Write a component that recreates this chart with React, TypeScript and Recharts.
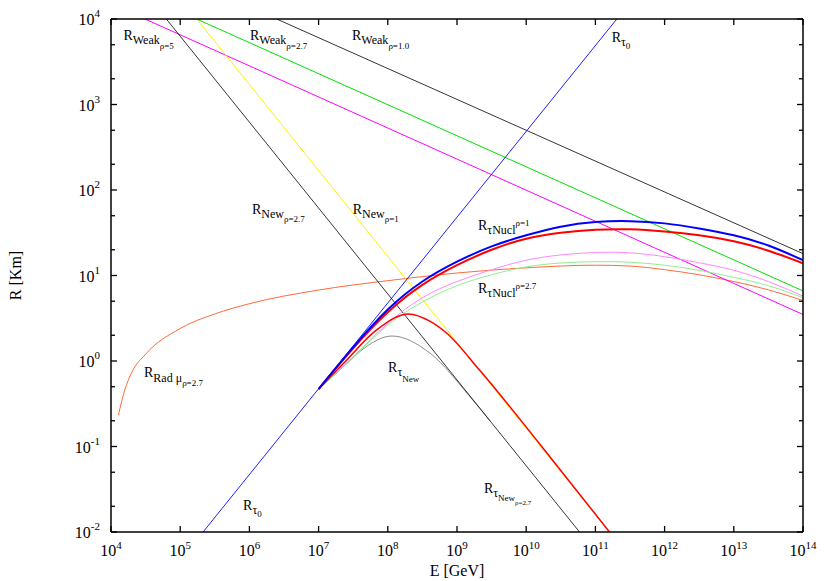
import { LineChart, Line, XAxis, YAxis, ReferenceDot } from "recharts";

const FONT = '"Liberation Serif", "Times New Roman", Times, serif';

// axis ticks
const eTicks = [1e4, 1e5, 1e6, 1e7, 1e8, 1e9, 1e10, 1e11, 1e12, 1e13, 1e14];
const rMajor = [1e-2, 1e-1, 1, 1e1, 1e2, 1e3, 1e4];
const rMinor = [2e-2, 5e-2, 2e-1, 5e-1, 2, 5, 20, 50, 200, 500, 2e3, 5e3];
const rTicks = [...rMajor, ...rMinor].sort((a, b) => a - b);

type Pt = { e: number; r: number };

// straight lines (log-log)
const tau0: Pt[] = [
  { e: 2.14e5, r: 0.01 },
  { e: 2.04e11, r: 1e4 }
];
const weakRho1: Pt[] = [
  { e: 2.48e6, r: 1e4 },
  { e: 1e14, r: 18 }
];
const weakRho27: Pt[] = [
  { e: 1.73e5, r: 1e4 },
  { e: 1e14, r: 6.6 }
];
const weakRho5: Pt[] = [
  { e: 3.1e4, r: 1e4 },
  { e: 1e14, r: 3.5 }
];
const newRho27: Pt[] = [
  { e: 6.3e4, r: 1e4 },
  { e: 5.9e10, r: 0.01 }
];
const newRho1: Pt[] = [
  { e: 1.73e5, r: 1e4 },
  { e: 1.6e11, r: 0.01 }
];

// curves
const radMu: Pt[] = [
  { e: 1.28e4, r: 0.234 },
  { e: 1.58e4, r: 0.457 },
  { e: 2e4, r: 0.74 },
  { e: 3.16e4, r: 1.2 },
  { e: 1e5, r: 2.4 },
  { e: 3.16e5, r: 3.55 },
  { e: 1e6, r: 4.68 },
  { e: 1e7, r: 6.76 },
  { e: 1e8, r: 8.7 },
  { e: 1e9, r: 10.7 },
  { e: 1e10, r: 12.3 },
  { e: 1e11, r: 13.2 },
  { e: 3.16e11, r: 12.9 },
  { e: 1e12, r: 11.7 },
  { e: 3.16e12, r: 10.2 },
  { e: 1e13, r: 8.5 },
  { e: 3.16e13, r: 6.8 },
  { e: 1e14, r: 5.1 }
];
const nuclBlue: Pt[] = [
  { e: 1e7, r: 0.47 },
  { e: 3.16e7, r: 1.45 },
  { e: 1e8, r: 4.0 },
  { e: 3.16e8, r: 8.5 },
  { e: 1e9, r: 14.5 },
  { e: 3.16e9, r: 21.9 },
  { e: 1e10, r: 29.5 },
  { e: 3.16e10, r: 37.2 },
  { e: 1e11, r: 42.2 },
  { e: 3.16e11, r: 43.2 },
  { e: 1e12, r: 40.7 },
  { e: 3.16e12, r: 35.5 },
  { e: 1e13, r: 29.5 },
  { e: 3.16e13, r: 22.4 },
  { e: 1e14, r: 15.1 }
];
const nuclRed: Pt[] = [
  { e: 1e7, r: 0.47 },
  { e: 3.16e7, r: 1.41 },
  { e: 1e8, r: 3.72 },
  { e: 3.16e8, r: 7.76 },
  { e: 1e9, r: 13.2 },
  { e: 3.16e9, r: 20.0 },
  { e: 1e10, r: 26.9 },
  { e: 3.16e10, r: 31.6 },
  { e: 1e11, r: 34.3 },
  { e: 3.16e11, r: 34.7 },
  { e: 1e12, r: 32.7 },
  { e: 3.16e12, r: 29.5 },
  { e: 1e13, r: 25.1 },
  { e: 3.16e13, r: 19.5 },
  { e: 1e14, r: 13.9 }
];
const nuclPink: Pt[] = [
  { e: 1e7, r: 0.47 },
  { e: 3.16e7, r: 1.12 },
  { e: 1e8, r: 2.75 },
  { e: 3.16e8, r: 5.5 },
  { e: 1e9, r: 8.5 },
  { e: 3.16e9, r: 11.7 },
  { e: 1e10, r: 15.1 },
  { e: 3.16e10, r: 17.4 },
  { e: 1e11, r: 18.6 },
  { e: 3.16e11, r: 18.4 },
  { e: 1e12, r: 16.6 },
  { e: 3.16e12, r: 14.1 },
  { e: 1e13, r: 11.5 },
  { e: 3.16e13, r: 8.5 },
  { e: 1e14, r: 5.75 }
];
const nuclGreen: Pt[] = [
  { e: 1e7, r: 0.47 },
  { e: 3.16e7, r: 1.1 },
  { e: 1e8, r: 2.63 },
  { e: 3.16e8, r: 4.9 },
  { e: 1e9, r: 7.6 },
  { e: 3.16e9, r: 10.2 },
  { e: 1e10, r: 12.6 },
  { e: 3.16e10, r: 14.0 },
  { e: 1e11, r: 14.5 },
  { e: 3.16e11, r: 14.3 },
  { e: 1e12, r: 13.2 },
  { e: 3.16e12, r: 11.5 },
  { e: 1e13, r: 9.5 },
  { e: 3.16e13, r: 7.6 },
  { e: 1e14, r: 5.5 }
];
const tauNewRho1: Pt[] = [
  { e: 1e7, r: 0.47 },
  { e: 2.3e7, r: 0.94 },
  { e: 6.9e7, r: 2.31 },
  { e: 2e8, r: 3.55 },
  { e: 4.1e8, r: 2.9 },
  { e: 7.1e8, r: 2.11 },
  { e: 2.1e9, r: 0.79 },
  { e: 1.6e10, r: 0.105 },
  { e: 1.6e11, r: 0.01 }
];
const tauNewRho27: Pt[] = [
  { e: 1e7, r: 0.47 },
  { e: 2.3e7, r: 0.86 },
  { e: 4e7, r: 1.3 },
  { e: 1.15e8, r: 1.96 },
  { e: 4.1e8, r: 1.23 },
  { e: 1.55e9, r: 0.38 },
  { e: 3e9, r: 0.2 }
];

// annotations: [text, baseline offset, font size]
type Part = [string, number, number];
const labels: { e: number; r: number; parts: Part[] }[] = [
  { e: 1.51e4, r: 5740, parts: [["R", 0, 14], ["Weak", 4, 12], ["ρ=5", 9, 9]] },
  { e: 1.02e6, r: 5740, parts: [["R", 0, 14], ["Weak", 4, 12], ["ρ=2.7", 9, 9]] },
  { e: 3.04e7, r: 5740, parts: [["R", 0, 14], ["Weak", 4, 12], ["ρ=1.0", 9, 9]] },
  { e: 1.72e11, r: 5380, parts: [["R", 0, 14], ["τ", 4, 12], ["0", 7, 9]] },
  { e: 1.09e6, r: 53, parts: [["R", 0, 14], ["New", 4, 12], ["ρ=2.7", 8, 9]] },
  { e: 3.11e7, r: 53, parts: [["R", 0, 14], ["New", 4, 12], ["ρ=1", 8, 9]] },
  { e: 2.01e9, r: 34, parts: [["R", 0, 14], ["τNucl", 4, 12], ["ρ=1", -4.5, 9]] },
  { e: 2.01e9, r: 6.2, parts: [["R", 0, 14], ["τNucl", 4, 12], ["ρ=2.7", -4.5, 9]] },
  { e: 3.0e4, r: 0.658, parts: [["R", 0, 14], ["Rad μ", 5, 12], ["ρ=2.7", 9.5, 9]] },
  { e: 1.01e8, r: 0.751, parts: [["R", 0, 14], ["τ", 4, 12], ["New", 10, 9]] },
  { e: 8.1e5, r: 0.0182, parts: [["R", 0, 14], ["τ", 4, 12], ["0", 7, 9]] },
  { e: 2.45e9, r: 0.0286, parts: [["R", 0, 14], ["τ", 4, 12], ["New", 8, 9], ["ρ=2.7", 12, 7]] }
];

const exp10 = (v: number) => Math.round(Math.log10(v));
const isMajor = (v: number) => Math.abs(Math.log10(v) - exp10(v)) < 1e-6;

function BottomTick(props: any) {
  const { x, y, payload } = props;
  return (
    <g>
      <line x1={x} y1={y} x2={x} y2={y - 6} stroke="#000" strokeWidth={1.3} />
      <text x={x} y={y + 24} textAnchor="middle" fontFamily={FONT} fontSize={16} fill="#000">
        10<tspan dy={-7} fontSize={11}>{exp10(payload.value)}</tspan>
      </text>
    </g>
  );
}

function TopTick(props: any) {
  const { x, y } = props;
  return <line x1={x} y1={y} x2={x} y2={y + 6} stroke="#000" strokeWidth={1.3} />;
}

function LeftTick(props: any) {
  const { x, y, payload } = props;
  const major = isMajor(payload.value);
  return (
    <g>
      <line x1={x} y1={y} x2={x + (major ? 6 : 4)} y2={y} stroke="#000" strokeWidth={1.3} />
      {major ? (
        <text x={x - 11} y={y + 6} textAnchor="end" fontFamily={FONT} fontSize={16} fill="#000">
          10<tspan dy={-8} fontSize={11}>{exp10(payload.value)}</tspan>
        </text>
      ) : null}
    </g>
  );
}

function RightTick(props: any) {
  const { x, y, payload } = props;
  const major = isMajor(payload.value);
  return <line x1={x} y1={y} x2={x - (major ? 6 : 4)} y2={y} stroke="#000" strokeWidth={1.3} />;
}

function MathLabel(props: any, parts: Part[]) {
  const vb = props.viewBox || {};
  let prev = 0;
  return (
    <text x={vb.x} y={vb.y} fontFamily={FONT} fill="#000">
      {parts.map(([t, off, size], i) => {
        const dy = off - prev;
        prev = off;
        return (
          <tspan key={i} dy={dy} fontSize={size}>
            {t}
          </tspan>
        );
      })}
    </text>
  );
}

type Curve = "linear" | "monotone" | "natural";
const series: { data: Pt[]; color: string; width: number; curve: Curve }[] = [
  { data: radMu, color: "#ff6a3a", width: 1, curve: "monotone" },
  { data: weakRho5, color: "#ff00ff", width: 1, curve: "linear" },
  { data: weakRho27, color: "#00e000", width: 1, curve: "linear" },
  { data: weakRho1, color: "#000000", width: 0.8, curve: "linear" },
  { data: newRho1, color: "#ffee00", width: 1, curve: "linear" },
  { data: tau0, color: "#1f1fff", width: 1, curve: "linear" },
  { data: tauNewRho27, color: "#8c8c8c", width: 1, curve: "monotone" },
  { data: newRho27, color: "#000000", width: 0.8, curve: "linear" },
  { data: nuclPink, color: "#ff88ff", width: 1, curve: "natural" },
  { data: nuclGreen, color: "#90ee90", width: 1, curve: "natural" },
  { data: tauNewRho1, color: "#ff0000", width: 1.5, curve: "monotone" },
  { data: nuclRed, color: "#ff0000", width: 2, curve: "natural" },
  { data: nuclBlue, color: "#0000ff", width: 2, curve: "natural" }
];

export default function App() {
  return (
    <div style={{ position: "absolute", left: 0, top: 0, width: 830, height: 581, background: "#fff" }}>
      <LineChart width={830} height={581} margin={{ top: 0, right: 0, bottom: 0, left: 0 }}>
        <XAxis
          xAxisId="b"
          orientation="bottom"
          dataKey="e"
          type="number"
          scale="log"
          domain={[1e4, 1e14]}
          allowDataOverflow
          ticks={eTicks}
          interval={0}
          height={49}
          tickSize={0}
          tickMargin={0}
          tickLine={false}
          tick={BottomTick}
          axisLine={{ stroke: "#000", strokeWidth: 1.5 }}
          label={{
            content: (p: any) => {
              const vb = p.viewBox || {};
              return (
                <text x={vb.x + vb.width / 2} y={vb.y + 44} textAnchor="middle" fontFamily={FONT} fontSize={16} fill="#000">
                  E [GeV]
                </text>
              );
            }
          }}
        />
        <XAxis
          xAxisId="t"
          orientation="top"
          dataKey="e"
          type="number"
          scale="log"
          domain={[1e4, 1e14]}
          allowDataOverflow
          ticks={eTicks}
          interval={0}
          height={19}
          tickSize={0}
          tickMargin={0}
          tickLine={false}
          tick={TopTick}
          axisLine={{ stroke: "#000", strokeWidth: 1.5 }}
        />
        <YAxis
          yAxisId="l"
          orientation="left"
          type="number"
          scale="log"
          domain={[1e-2, 1e4]}
          allowDataOverflow
          ticks={rTicks}
          interval={0}
          width={111}
          tickSize={0}
          tickMargin={0}
          tickLine={false}
          tick={LeftTick}
          axisLine={{ stroke: "#000", strokeWidth: 1.5 }}
          label={{
            content: (p: any) => {
              const vb = p.viewBox || {};
              const cy = vb.y + vb.height / 2;
              return (
                <text x={21} y={cy} transform={`rotate(-90 21 ${cy})`} textAnchor="middle" fontFamily={FONT} fontSize={16} fill="#000">
                  R [Km]
                </text>
              );
            }
          }}
        />
        <YAxis
          yAxisId="r"
          orientation="right"
          type="number"
          scale="log"
          domain={[1e-2, 1e4]}
          allowDataOverflow
          ticks={rTicks}
          interval={0}
          width={27}
          tickSize={0}
          tickMargin={0}
          tickLine={false}
          tick={RightTick}
          axisLine={{ stroke: "#000", strokeWidth: 1.5 }}
        />
        {series.map((s, i) => (
          <Line
            key={i}
            data={s.data}
            dataKey="r"
            xAxisId="b"
            yAxisId="l"
            type={s.curve}
            stroke={s.color}
            strokeWidth={s.width}
            dot={false}
            activeDot={false}
            isAnimationActive={false}
          />
        ))}
        {labels.map((l, i) => (
          <ReferenceDot
            key={`lbl${i}`}
            x={l.e}
            y={l.r}
            r={0}
            xAxisId="b"
            yAxisId="l"
            fill="none"
            stroke="none"
            ifOverflow="visible"
            label={{ content: (p: any) => MathLabel(p, l.parts) }}
          />
        ))}
      </LineChart>
    </div>
  );
}
